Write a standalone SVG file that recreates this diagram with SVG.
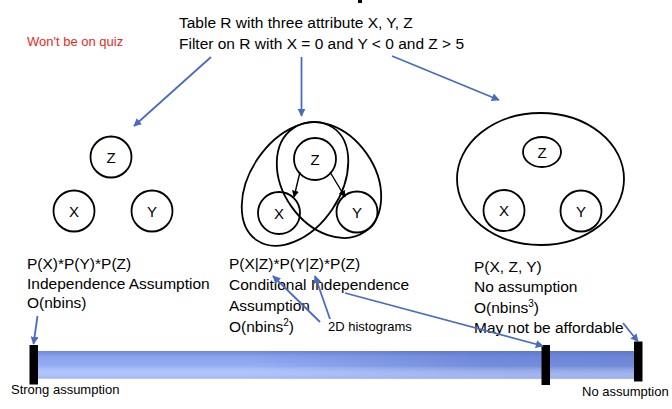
<svg xmlns="http://www.w3.org/2000/svg" width="672" height="409" viewBox="0 0 672 409">
<defs>
<marker id="ab" viewBox="0 0 10 10" refX="9" refY="5" markerWidth="8" markerHeight="8" markerUnits="userSpaceOnUse" orient="auto">
<path d="M0,0 L10,5 L0,10 z" fill="#4a6cbf"/>
</marker>
<marker id="ak" viewBox="0 0 10 10" refX="9" refY="5" markerWidth="7" markerHeight="7" markerUnits="userSpaceOnUse" orient="auto">
<path d="M0,0 L10,5 L0,10 z" fill="#000"/>
</marker>
<linearGradient id="barg" x1="0" y1="0" x2="0" y2="1">
<stop offset="0" stop-color="#6e86d6"/>
<stop offset="0.2" stop-color="#8aa2ec"/>
<stop offset="0.6" stop-color="#97b0f6"/>
<stop offset="1" stop-color="#9cb4f8"/>
</linearGradient>
<linearGradient id="band" gradientUnits="userSpaceOnUse" x1="250" y1="350" x2="640" y2="380">
<stop offset="0" stop-color="#4d66c0" stop-opacity="0"/>
<stop offset="0.6" stop-color="#4d66c0" stop-opacity="0.45"/>
<stop offset="1" stop-color="#4d66c0" stop-opacity="0.5"/>
</linearGradient>
<linearGradient id="bandv" x1="0" y1="0" x2="0" y2="1">
<stop offset="0" stop-color="#fff" stop-opacity="0"/>
<stop offset="0.55" stop-color="#fff" stop-opacity="0"/>
<stop offset="1" stop-color="#9cb4f8" stop-opacity="0.9"/>
</linearGradient>
</defs>
<style>
.t{font-family:"Liberation Sans",Arial,sans-serif;font-size:15.5px;fill:#000}
.s{font-family:"Liberation Sans",Arial,sans-serif;font-size:13px;fill:#000}
.n{font-family:"Liberation Sans",Arial,sans-serif;font-size:15px;fill:#000;text-anchor:middle}
.c{fill:none;stroke:#000;stroke-width:1.8}
.b{fill:none;stroke:#4a6cbf;stroke-width:1.8;marker-end:url(#ab)}
.k{fill:none;stroke:#000;stroke-width:1.4;marker-end:url(#ak)}
.bar{fill:#000}
</style>
<rect width="672" height="409" fill="#fff"/>
<rect x="358" y="0" width="4" height="3" fill="#000"/>

<g id="header">
<text class="t" x="179" y="28">Table R with three attribute X, Y, Z</text>
<text class="t" x="179" y="49">Filter on R with X = 0 and Y &lt; 0 and Z &gt; 5</text>
<text x="27" y="46" font-family="Liberation Sans, Arial, sans-serif" font-size="13px" fill="#e8281e">Won't be on quiz</text>
</g>

<g id="left-model">
<circle class="c" cx="111" cy="157" r="20.5"/>
<text class="n" x="111" y="163">Z</text>
<circle class="c" cx="74" cy="211" r="20.5"/>
<text class="n" x="74" y="217">X</text>
<circle class="c" cx="152" cy="211" r="20.5"/>
<text class="n" x="152" y="217">Y</text>
<text class="t" x="27" y="269">P(X)*P(Y)*P(Z)</text>
<text class="t" x="27" y="289">Independence Assumption</text>
<text class="t" x="27" y="308">O(nbins)</text>
</g>

<g id="middle-model">
<ellipse class="c" cx="295" cy="184" rx="68" ry="45" transform="rotate(-56 295 184)"/>
<ellipse class="c" cx="329" cy="180" rx="63" ry="46" transform="rotate(55 329 180)"/>
<circle class="c" cx="315" cy="159" r="21" fill="#fff"/>
<text class="n" x="315" y="165">Z</text>
<circle class="c" cx="279" cy="213" r="21"/>
<text class="n" x="279" y="219">X</text>
<circle class="c" cx="357" cy="212" r="20.5"/>
<text class="n" x="357" y="218">Y</text>
<text class="t" x="229" y="269">P(X|Z)*P(Y|Z)*P(Z)</text>
<text class="t" x="229" y="290">Conditional Independence</text>
<text class="t" x="229" y="311">Assumption</text>
<text class="t" x="229" y="332">O(nbins<tspan font-size="10px" dy="-6">2</tspan><tspan dy="6">)</tspan></text>
<text class="s" x="328" y="331">2D histograms</text>
</g>

<g id="right-model">
<ellipse class="c" cx="540.5" cy="179" rx="83.5" ry="66"/>
<ellipse class="c" cx="542" cy="152" rx="19" ry="15"/>
<text class="n" x="542" y="158">Z</text>
<circle class="c" cx="504" cy="210.5" r="20.5"/>
<text class="n" x="504" y="216">X</text>
<circle class="c" cx="581" cy="211" r="20.5"/>
<text class="n" x="581" y="217">Y</text>
<text class="t" x="474" y="272">P(X, Z, Y)</text>
<text class="t" x="474" y="292">No assumption</text>
<text class="t" x="474" y="313">O(nbins<tspan font-size="10px" dy="-6">3</tspan><tspan dy="6">)</tspan></text>
<text class="t" x="474" y="333">May not be affordable</text>
</g>

<g id="scale">
<rect x="36" y="351" width="604" height="27.5" fill="url(#barg)"/>
<rect x="36" y="351" width="604" height="27.5" fill="url(#band)"/>
<rect x="36" y="351" width="604" height="27.5" fill="url(#bandv)"/>
<rect class="bar" x="29.5" y="345" width="8.5" height="39.5"/>
<rect class="bar" x="541.5" y="345" width="8.5" height="40"/>
<rect class="bar" x="634" y="341.5" width="8.5" height="40"/>
<text class="s" x="11" y="394">Strong assumption</text>
<text class="s" x="582" y="396">No assumption</text>
</g>

<g id="connectors">
<line class="b" x1="211" y1="57" x2="134" y2="126"/>
<line class="b" x1="301.5" y1="57" x2="301.5" y2="116"/>
<line class="b" x1="392" y1="56" x2="499" y2="100"/>
<line class="k" x1="300" y1="172" x2="294" y2="197"/>
<line class="k" x1="330" y1="172" x2="345" y2="197"/>
<line class="b" x1="37.5" y1="316" x2="33.5" y2="344"/>
<line class="b" x1="320" y1="322" x2="273" y2="276"/>
<line class="b" x1="330" y1="319" x2="315" y2="276"/>
<line class="b" x1="345" y1="293" x2="543" y2="346"/>
<line class="b" x1="623" y1="323" x2="638" y2="341.5"/>
</g>
</svg>
